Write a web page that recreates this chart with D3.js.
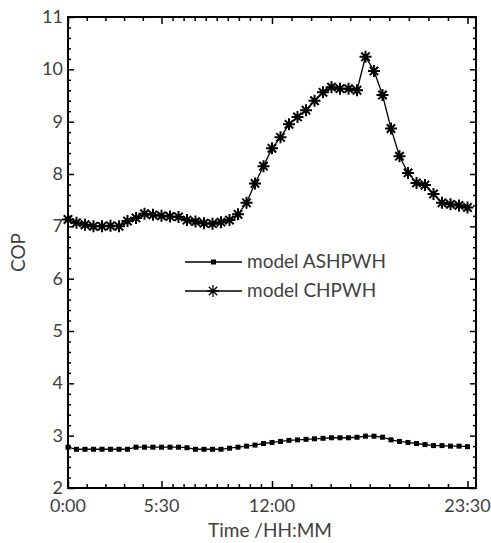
<!DOCTYPE html>
<html>
<head>
<meta charset="utf-8">
<style>
body { margin: 0; background: #fff; }
text { font-family: Lato, "Open Sans", sans-serif; fill: #404040; }
.frame { fill: none; stroke: #000; stroke-width: 2px; }
.tick line { stroke: #000; stroke-width: 1.5px; }
.series { fill: none; stroke: #000; stroke-width: 1.3px; }
</style>
</head>
<body>
<svg width="491" height="543"></svg>
<script src="https://d3js.org/d3.v7.min.js"></script>
<script>
// half-hourly samples, 0:00 .. 23:30
var hours = d3.range(48).map(function(i){ return i * 0.5; });

var ashpwh = [2.78, 2.74, 2.74, 2.74, 2.74, 2.74, 2.74, 2.74,
              2.78, 2.78, 2.78, 2.78, 2.78, 2.78, 2.77, 2.74,
              2.74, 2.74, 2.74, 2.76, 2.78, 2.80, 2.82, 2.85,
              2.87, 2.89, 2.91, 2.92, 2.93, 2.94, 2.95, 2.96,
              2.96, 2.96, 2.97, 2.99, 2.99, 2.97, 2.92, 2.89,
              2.87, 2.85, 2.83, 2.81, 2.81, 2.80, 2.80, 2.79];

var chpwh = [7.13, 7.07, 7.03, 7.00, 7.00, 7.01, 7.00, 7.10,
             7.16, 7.24, 7.22, 7.20, 7.19, 7.18, 7.12, 7.09,
             7.06, 7.05, 7.08, 7.12, 7.23, 7.45, 7.82, 8.15,
             8.49, 8.70, 8.95, 9.09, 9.22, 9.40, 9.56, 9.66,
             9.63, 9.63, 9.60, 10.24, 9.97, 9.51, 8.87, 8.34,
             8.02, 7.83, 7.79, 7.62, 7.45, 7.42, 7.40, 7.36];

var xTicks = [0, 5.5, 12, 23.5];
var xTickLabels = ["0:00", "5:30", "12:00", "23:30"];
var yTicks = [2, 3, 4, 5, 6, 7, 8, 9, 10, 11];
var seriesNames = ["model ASHPWH", "model CHPWH"];

var svg = d3.select("svg");
var pLeft = 68, pRight = 476, pTop = 17, pBottom = 488;

var x = d3.scaleLinear().domain([0, 24]).range([pLeft, pRight]);
var y = d3.scaleLinear().domain([2, 11]).range([pBottom, pTop]);

// minor ticks: 5 steps up to 5:30, 10 steps between the other labels
var xMinor = [];
for (var k = 0; k < xTicks.length - 1; k++) {
  var n = k == 0 ? 5 : 10;
  for (var j = 1; j < n; j++) xMinor.push(xTicks[k] + (xTicks[k+1] - xTicks[k]) * j / n);
}
var yMinor = d3.range(2, 11.001, 0.2).filter(function(v){ return Math.abs(v - Math.round(v)) > 0.01; });

function noText(g){ g.select(".domain").remove(); g.selectAll("text").remove(); }

// inward ticks on all four sides
svg.append("g").attr("transform", "translate(0," + pBottom + ")")
  .call(d3.axisTop(x).tickValues(xTicks).tickSize(7).tickFormat("")).call(noText);
svg.append("g").attr("transform", "translate(0," + pBottom + ")")
  .call(d3.axisTop(x).tickValues(xMinor).tickSize(4).tickFormat("")).call(noText);
svg.append("g").attr("transform", "translate(0," + pTop + ")")
  .call(d3.axisBottom(x).tickValues(xTicks).tickSize(7).tickFormat("")).call(noText);
svg.append("g").attr("transform", "translate(0," + pTop + ")")
  .call(d3.axisBottom(x).tickValues(xMinor).tickSize(4).tickFormat("")).call(noText);
svg.append("g").attr("transform", "translate(" + pLeft + ",0)")
  .call(d3.axisRight(y).tickValues(yTicks).tickSize(6).tickFormat("")).call(noText);
svg.append("g").attr("transform", "translate(" + pLeft + ",0)")
  .call(d3.axisRight(y).tickValues(yMinor).tickSize(3).tickFormat("")).call(noText);
svg.append("g").attr("transform", "translate(" + pRight + ",0)")
  .call(d3.axisLeft(y).tickValues(yTicks).tickSize(6).tickFormat("")).call(noText);
svg.append("g").attr("transform", "translate(" + pRight + ",0)")
  .call(d3.axisLeft(y).tickValues(yMinor).tickSize(3).tickFormat("")).call(noText);

svg.append("rect").attr("class", "frame")
  .attr("x", pLeft).attr("y", pTop).attr("width", pRight - pLeft).attr("height", pBottom - pTop);

// tick labels
svg.append("g").selectAll("text").data(xTicks).enter().append("text")
  .attr("x", function(d){ return x(d); }).attr("y", pBottom + 24)
  .attr("text-anchor", "middle").style("font-size", "18px")
  .text(function(d, i){ return xTickLabels[i]; });
svg.append("g").selectAll("text").data(yTicks).enter().append("text")
  .attr("x", pLeft - 5).attr("y", function(d){ return y(d) + 6; })
  .attr("text-anchor", "end").style("font-size", "18px")
  .text(function(d){ return d; });

svg.append("text").attr("x", 270).attr("y", 537)
  .attr("text-anchor", "middle").style("font-size", "19px").text("Time /HH:MM");
svg.append("text").attr("transform", "translate(25," + ((pTop + pBottom) / 2) + ") rotate(-90)")
  .attr("text-anchor", "middle").style("font-size", "19px").text("COP");

var line = d3.line().x(function(d){ return x(d[0]); }).y(function(d){ return y(d[1]); });
var ashData = hours.map(function(h, i){ return [h, ashpwh[i]]; });
var chData = hours.map(function(h, i){ return [h, chpwh[i]]; });

var star = "M0,-6V6M-6,0H6M-4.2,-4.2L4.2,4.2M-4.2,4.2L4.2,-4.2";

svg.append("path").attr("class", "series").attr("d", line(ashData));
svg.append("path").attr("class", "series").attr("d", line(chData));

svg.append("g").selectAll("rect").data(ashData).enter().append("rect")
  .attr("x", function(d){ return x(d[0]) - 2.5; }).attr("y", function(d){ return y(d[1]) - 2.5; })
  .attr("width", 5).attr("height", 5).attr("fill", "#000");
svg.append("g").selectAll("path").data(chData).enter().append("path")
  .attr("transform", function(d){ return "translate(" + x(d[0]) + "," + y(d[1]) + ")"; })
  .attr("d", star).attr("stroke", "#000").attr("stroke-width", 2).attr("fill", "none");

// legend
var legY = [262, 291];
var lg = svg.append("g");
legY.forEach(function(ly, i){
  lg.append("line").attr("x1", 185).attr("x2", 242).attr("y1", ly).attr("y2", ly)
    .attr("stroke", "#000").attr("stroke-width", 1.3);
  if (i == 0) {
    lg.append("rect").attr("x", 211).attr("y", ly - 2.5).attr("width", 5).attr("height", 5).attr("fill", "#000");
  } else {
    lg.append("path").attr("transform", "translate(213," + ly + ")").attr("d", star)
      .attr("stroke", "#000").attr("stroke-width", 1.3).attr("fill", "none");
  }
  lg.append("text").attr("x", 247).attr("y", ly + 6).style("font-size", "19px").text(seriesNames[i]);
});
</script>
</body>
</html>
